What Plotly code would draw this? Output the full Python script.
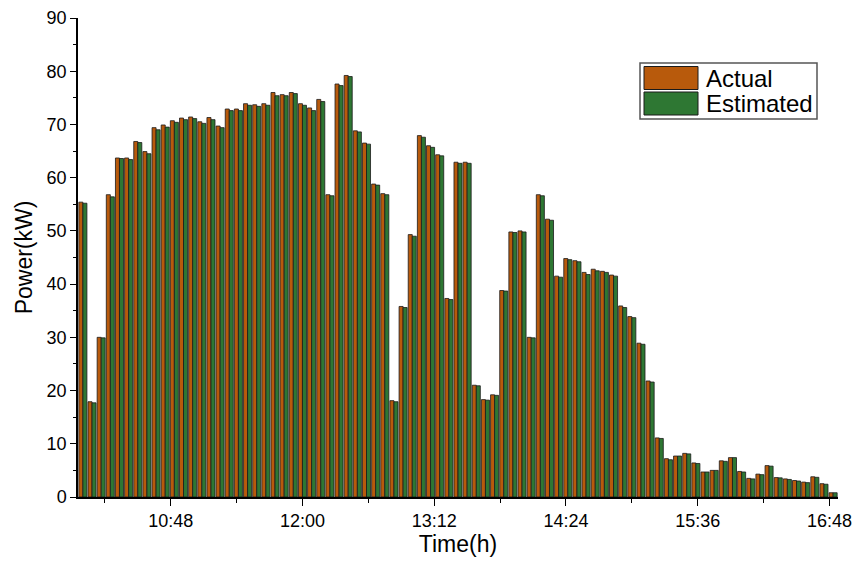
import plotly.graph_objects as go

times = ["10:00","10:05","10:10","10:15","10:20","10:25","10:30","10:35","10:40","10:45",
         "10:50","10:55","11:00","11:05","11:10","11:15","11:20","11:25","11:30","11:35",
         "11:40","11:45","11:50","11:55","12:00","12:05","12:10","12:15","12:20","12:25",
         "12:30","12:35","12:40","12:45","12:50","12:55","13:00","13:05","13:10","13:15",
         "13:20","13:25","13:30","13:35","13:40","13:45","13:50","13:55","14:00","14:05",
         "14:10","14:15","14:20","14:25","14:30","14:35","14:40","14:45","14:50","14:55",
         "15:00","15:05","15:10","15:15","15:20","15:25","15:30","15:35","15:40","15:45",
         "15:50","15:55","16:00","16:05","16:10","16:15","16:20","16:25","16:30","16:35",
         "16:40","16:45","16:50"]

actual = [55.4, 17.9, 30.0, 56.8, 63.7, 63.7, 66.8, 64.9, 69.4, 69.9,
          70.7, 71.2, 71.4, 70.5, 71.3, 69.7, 72.9, 72.9, 73.9, 73.7,
          73.9, 76.0, 75.6, 76.0, 73.9, 73.1, 74.7, 56.8, 77.6, 79.2,
          68.8, 66.5, 58.8, 57.0, 18.1, 35.8, 49.3, 67.9, 66.0, 64.3,
          37.3, 62.9, 62.9, 21.0, 18.3, 19.2, 38.8, 49.8, 50.0, 30.0,
          56.8, 52.2, 41.5, 44.8, 44.4, 42.2, 42.8, 42.4, 41.7, 35.9,
          33.9, 28.9, 21.8, 11.1, 7.2, 7.7, 8.2, 6.4, 4.7, 5.0,
          6.8, 7.4, 4.8, 3.5, 4.3, 5.9, 3.65, 3.4, 3.1, 2.8,
          3.8, 2.5, 0.8]

estimated = [55.2, 17.7, 29.9, 56.4, 63.6, 63.4, 66.6, 64.5, 69.0, 69.5,
             70.4, 70.9, 71.1, 70.2, 70.9, 69.4, 72.6, 72.6, 73.6, 73.4,
             73.6, 75.4, 75.4, 75.8, 73.6, 72.6, 74.3, 56.6, 77.3, 79.0,
             68.6, 66.3, 58.6, 56.8, 17.9, 35.6, 49.0, 67.6, 65.7, 64.1,
             37.1, 62.7, 62.7, 20.9, 18.2, 19.1, 38.7, 49.7, 49.8, 29.9,
             56.6, 52.0, 41.3, 44.6, 44.2, 41.8, 42.5, 42.2, 41.5, 35.6,
             33.7, 28.7, 21.6, 11.0, 7.0, 7.7, 8.1, 6.3, 4.7, 5.0,
             6.7, 7.4, 4.7, 3.4, 4.2, 5.8, 3.6, 3.3, 3.0, 2.7,
             3.7, 2.4, 0.8]

series_names = ["Actual", "Estimated"]
colors = ["#B85A0C", "#2E7733"]

DAY = "2024-01-01 "
x = [DAY + t for t in times]

W, H = 856, 564
L, R, T, B = 78, 18, 18, 67

fig = go.Figure()
for name, vals, col in zip(series_names, [actual, estimated], colors):
    fig.add_trace(go.Bar(x=x, y=vals, name=name, marker=dict(color=col, line=dict(color="#1a1a1a", width=0.8)),
                         showlegend=False))

font = "Liberation Sans, Arial, sans-serif"
fig.update_layout(
    width=W, height=H,
    margin=dict(l=L, r=R, t=T, b=B),
    paper_bgcolor="white", plot_bgcolor="white",
    barmode="group", bargap=0.12, bargroupgap=0.0,
    font=dict(family=font, color="black"),
)
fig.update_xaxes(
    type="date", automargin=False,
    range=[DAY + "09:57:20", DAY + "16:52:40"],
    tick0=DAY + "10:48", dtick=72 * 60 * 1000, tickformat="%H:%M",
    ticks="outside", ticklen=7, tickwidth=1.3, tickcolor="black",
    minor=dict(dtick=36 * 60 * 1000, tick0=DAY + "10:12", ticks="outside", ticklen=4, tickwidth=1.2, tickcolor="black"),
    showline=True, linecolor="black", linewidth=1.5, showgrid=False, zeroline=False,
    tickfont=dict(size=18), title=dict(text="Time(h)", font=dict(size=23), standoff=6),
)
fig.update_yaxes(
    automargin=False,
    range=[0, 90], dtick=10, tick0=0,
    ticks="outside", ticklen=6, tickwidth=1.3, tickcolor="black",
    minor=dict(dtick=5, ticks="outside", ticklen=3, tickwidth=1.2, tickcolor="black"),
    showline=True, linecolor="black", linewidth=1.5, showgrid=False, zeroline=False,
    tickfont=dict(size=18), title=dict(text="Power(kW)", font=dict(size=23), standoff=8),
)

# custom legend with large swatches
pw, ph = W - L - R, H - T - B
def px(xp):
    return (xp - L) / pw
def py(yp):
    return (H - B - yp) / ph

fig.add_shape(type="rect", xref="paper", yref="paper", x0=px(640), x1=px(817), y0=py(119), y1=py(63),
              line=dict(color="#555555", width=1.5), fillcolor="white", layer="above")
for i, (name, col) in enumerate(zip(series_names, colors)):
    top = 66.5 + i * 25.5
    fig.add_shape(type="rect", xref="paper", yref="paper", x0=px(644), x1=px(698), y0=py(top + 23), y1=py(top),
                  line=dict(color="#1a1a1a", width=1), fillcolor=col, layer="above")
    fig.add_annotation(xref="paper", yref="paper", x=px(704), y=py(top + 11.5), text=name,
                       showarrow=False, xanchor="left", yanchor="middle", font=dict(size=24, family=font, color="black"))

fig.write_html("out.html")
